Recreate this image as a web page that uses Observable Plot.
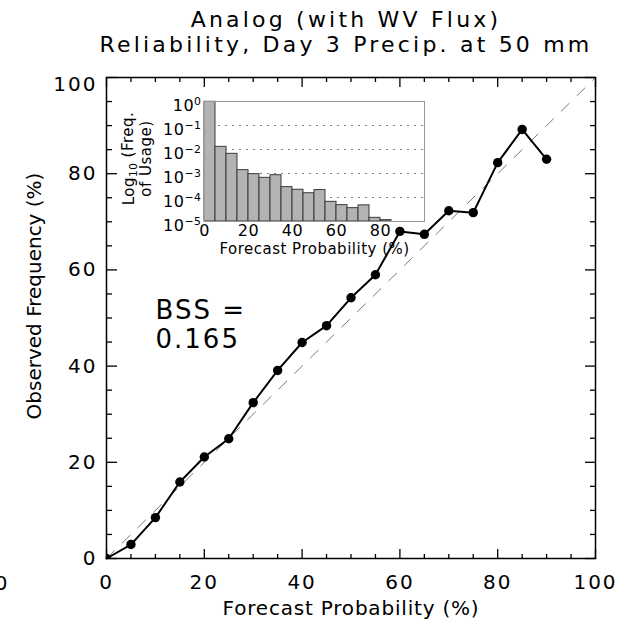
<!DOCTYPE html>
<html>
<head>
<meta charset="utf-8">
<script src="https://cdn.jsdelivr.net/npm/d3@7"></script>
<script src="https://cdn.jsdelivr.net/npm/@observablehq/plot@0.6"></script>
<style>
  body { margin: 0; background: #fff; }
  #chart { position: relative; width: 631px; height: 625px; overflow: hidden; }
  #chart svg { position: absolute; }
</style>
</head>
<body>
<div id="chart"></div>
<script>
// Reliability curve: forecast probability bins (%) and observed frequency (%)
const forecastProb = [0, 5, 10, 15, 20, 25, 30, 35, 40, 45, 50, 55, 60, 65, 70, 75, 80, 85, 90];
const observedFreq = [0, 2.9, 8.5, 15.9, 21.1, 24.9, 32.4, 39.1, 44.9, 48.4, 54.2, 59.0, 68.0, 67.4, 72.3, 71.9, 82.3, 89.2, 83.0];
const perfectReliability = [0, 100];

// Inset histogram: relative frequency of usage of each forecast probability bin
const usageBinStart = [0, 5, 10, 15, 20, 25, 30, 35, 40, 45, 50, 55, 60, 65, 70, 75, 80];
const usageBinEnd   = [5, 10, 15, 20, 25, 30, 35, 40, 45, 50, 55, 60, 65, 70, 75, 80, 85];
const usageFreq = [0.97, 0.0129, 0.0066, 0.00138, 0.00094, 0.00066, 0.00085, 0.00027, 0.00021, 0.000151,
                   0.000204, 0.000066, 0.000048, 0.000036, 0.000047, 0.0000142, 0.0000114];
const usageFloor = 1e-5;
const usageGrid = [1e-4, 1e-3, 1e-2, 1e-1];

// Axis ticks and labels
const majorTicks = [0, 20, 40, 60, 80, 100];
const minorTicks = [5, 10, 15, 25, 30, 35, 45, 50, 55, 65, 70, 75, 85, 90, 95];
const insetXTicks = [0, 20, 40, 60, 80];
const usageTickValues = [1e-5, 1e-4, 1e-3, 1e-2, 1e-1, 1];
const usageTickExponents = ["−5", "−4", "−3", "−2", "−1", "0"];

// Text
const titleLine1 = "Analog (with WV Flux)";
const titleLine2 = "Reliability, Day 3 Precip. at 50 mm";
const xTitle = "Forecast Probability (%)";
const yTitle = "Observed Frequency (%)";
const bssText = "BSS =\n0.165";
const insetXTitle = "Forecast Probability (%)";
const insetYTitle = "Log10 (Freq.\nof Usage)";
const edgeLabel = "0";

const FONT = "'DejaVu Sans', sans-serif";
const noLabel = () => "";

// Inward-pointing ticks on all four sides of the frame: each axis is placed on
// one side of the frame but oriented as if it belonged to the opposite side.
const inward = {bottom: "top", top: "bottom", left: "right", right: "left"};
const tickMarks = [];
for (const side of ["bottom", "top"]) {
  const opts = {anchor: inward[side], frameAnchor: side, tickFormat: noLabel, label: null, strokeWidth: 1.3};
  tickMarks.push(Plot.axisX(majorTicks, {...opts, tickSize: 10}));
  tickMarks.push(Plot.axisX(minorTicks, {...opts, tickSize: 5}));
}
for (const side of ["left", "right"]) {
  const opts = {anchor: inward[side], frameAnchor: side, tickFormat: noLabel, label: null, strokeWidth: 1.3};
  tickMarks.push(Plot.axisY(majorTicks, {...opts, tickSize: 10}));
  tickMarks.push(Plot.axisY(minorTicks, {...opts, tickSize: 5}));
}

const main = Plot.plot({
  width: 631,
  height: 625,
  marginLeft: 106,
  marginRight: 36,
  marginTop: 77,
  marginBottom: 67,
  style: {background: "transparent", fontFamily: FONT, color: "#000", overflow: "visible", letterSpacing: "0.8px"},
  x: {domain: [0, 100]},
  y: {domain: [0, 100]},
  marks: [
    Plot.line(perfectReliability, {x: d => d, y: d => d, stroke: "#7a7a7a", strokeWidth: 1, strokeDasharray: "11,11"}),
    Plot.line(forecastProb, {x: d => d, y: (d, i) => observedFreq[i], stroke: "#000", strokeWidth: 2}),
    Plot.dot(forecastProb, {x: d => d, y: (d, i) => observedFreq[i], r: 4.7, fill: "#000", clip: true}),
    ...tickMarks,
    Plot.axisX(majorTicks, {anchor: "bottom", tickSize: 0, tickPadding: 16, fontSize: 20, label: null}),
    Plot.axisY(majorTicks.filter(v => v < 100), {anchor: "left", tickSize: 0, tickPadding: 9, fontSize: 20, label: null}),
    Plot.axisY(majorTicks.filter(v => v === 100), {anchor: "left", tickSize: 0, tickPadding: 9, fontSize: 20, label: null, dy: 7}),
    Plot.frame({stroke: "#000", strokeWidth: 1.5}),
    Plot.text([xTitle], {frameAnchor: "bottom", lineAnchor: "middle", dy: 50, fontSize: 20}),
    Plot.text([yTitle], {frameAnchor: "left", textAnchor: "middle", lineAnchor: "middle", dx: -72, dy: -22, rotate: -90, fontSize: 20}),
    Plot.text([titleLine1], {frameAnchor: "top", lineAnchor: "middle", dy: -58, dx: -5, fontSize: 22}),
    Plot.text([titleLine2], {frameAnchor: "top", lineAnchor: "middle", dy: -33, dx: -5, fontSize: 22}),
    Plot.text([bssText], {frameAnchor: "top-left", textAnchor: "start", lineAnchor: "top", dx: 49, dy: 221, fontSize: 26, lineHeight: 1.12}),
    Plot.text([edgeLabel], {frameAnchor: "bottom-left", textAnchor: "end", lineAnchor: "middle", dx: -97, dy: 25, fontSize: 20})
  ]
});

const inset = Plot.plot({
  width: 330,
  height: 170,
  marginLeft: 94,
  marginRight: 16,
  marginTop: 11,
  marginBottom: 39,
  style: {background: "transparent", fontFamily: FONT, color: "#000", overflow: "visible", letterSpacing: "0.5px"},
  x: {domain: [0, 100]},
  y: {type: "log", domain: [usageFloor, 1]},
  marks: [
    Plot.ruleY(usageGrid, {stroke: "#808080", strokeWidth: 1.2, strokeDasharray: "2,5"}),
    Plot.rect(usageBinStart, {
      x1: d => d,
      x2: (d, i) => usageBinEnd[i],
      y1: () => usageFloor,
      y2: (d, i) => usageFreq[i],
      fill: "#b3b3b3",
      stroke: "#3a3a3a",
      strokeWidth: 1
    }),
    Plot.frame({stroke: "#999", strokeWidth: 1}),
    Plot.axisX(insetXTicks, {anchor: "bottom", tickSize: 0, tickPadding: 3, fontSize: 16, label: null}),
    Plot.axisY(usageTickValues, {
      anchor: "left", tickSize: 0, tickPadding: 3, fontSize: 16, label: null, dy: 4,
      tickFormat: d => "10" + usageTickExponents[usageTickValues.indexOf(d)]
    }),
    Plot.text([insetXTitle], {frameAnchor: "bottom", lineAnchor: "middle", dy: 27.5, fontSize: 15}),
    Plot.text([insetYTitle], {frameAnchor: "left", textAnchor: "middle", lineAnchor: "middle", rotate: -90, dx: -67, dy: -3, fontSize: 15, lineHeight: 1.2})
  ]
});

const chart = document.getElementById("chart");
inset.style.left = "110px";
inset.style.top = "90px";
main.style.left = "0px";
main.style.top = "0px";
chart.appendChild(inset);
chart.appendChild(main);

// Per-text letter spacing, picked out by content
const spacing = new Map([
  [titleLine1, "3.2px"], [titleLine2, "3.2px"],
  ["BSS =", "2px"], ["0.165", "2px"], [yTitle, "0px"]
]);
for (const v of majorTicks) spacing.set(String(v), "2px");
d3.select(main).selectAll("text, tspan").each(function() {
  const s = spacing.get(this.textContent);
  if (s) d3.select(this).style("letter-spacing", s);
});

// Powers of ten as "10" with a raised exponent
d3.select(inset).selectAll("text").each(function() {
  const t = this.textContent;
  const k = usageTickExponents.findIndex(e => t === "10" + e);
  if (k < 0 || this.querySelector("tspan")) return;
  const node = d3.select(this);
  node.text("10");
  node.append("tspan").attr("dy", "-0.5em").attr("font-size", "0.68em").text(usageTickExponents[k]);
});

// Subscript base in the inset's y title
d3.select(inset).selectAll("tspan").each(function() {
  if (this.textContent !== "Log10 (Freq.") return;
  const node = d3.select(this);
  node.text("Log");
  node.append("tspan").attr("dy", "0.3em").attr("font-size", "0.7em").text("10");
  node.append("tspan").attr("dy", "-0.3em").text(" (Freq.");
});
</script>
</body>
</html>
